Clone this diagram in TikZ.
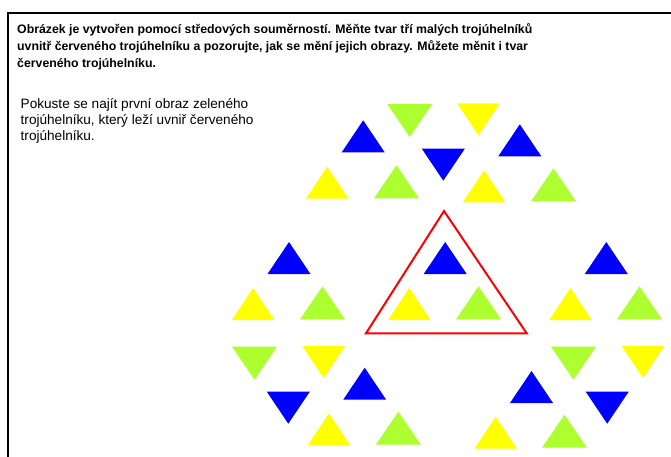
\documentclass[tikz,border=0pt]{standalone}
\usepackage{fontspec}
\setmainfont{Liberation Sans}
\definecolor{triblue}{HTML}{0000FF}
\definecolor{trigreen}{HTML}{ADFF2F}
\definecolor{triyellow}{HTML}{FFFF00}
\definecolor{trired}{HTML}{FF0000}
% triangle macros: #1 = x of base centre, #2 = y of base line (pixels, y downwards)
\newcommand\GrUp[2]{\fill[trigreen] ({#1-22.5},#2) -- ({#1+22.5},#2) -- (#1,{#2-33}) -- cycle;}
\newcommand\GrDn[2]{\fill[trigreen] ({#1-22.5},#2) -- ({#1+22.5},#2) -- (#1,{#2+33}) -- cycle;}
\newcommand\YeUp[2]{\fill[triyellow] ({#1-21.3},#2) -- ({#1+21.3},#2) -- (#1,{#2-32}) -- cycle;}
\newcommand\YeDn[2]{\fill[triyellow] ({#1-21.3},#2) -- ({#1+21.3},#2) -- (#1,{#2+32}) -- cycle;}
\newcommand\BlUp[2]{\fill[triblue] ({#1-21.5},#2) -- ({#1+21.5},#2) -- (#1,{#2-32}) -- cycle;}
\newcommand\BlDn[2]{\fill[triblue] ({#1-21.5},#2) -- ({#1+21.5},#2) -- (#1,{#2+32}) -- cycle;}
\begin{document}
\begin{tikzpicture}[x=1pt,y=-1pt,
  titletext/.style={font=\fontsize{12.3}{15}\selectfont\bfseries, inner sep=0pt, anchor=base west},
  hinttext/.style={font=\fontsize{13.6}{16}\selectfont, inner sep=0pt, anchor=base west},
  frameline/.style={line width=2.2pt, black},
  redtri/.style={trired, line width=2pt, line join=miter}]
\useasboundingbox (0,0) rectangle (671,457);
\fill[white] (0,0) rectangle (671,457);
% frame
\coordinate (fb) at (8,460);
\coordinate (fc) at (8,13);
\coordinate (fr) at (675,13);
\draw[frameline] (fb) -- (fc) -- (fr);
% texts
\node[titletext] (t1) at (17,33.8) {Obrázek je vytvořen pomocí středových souměrností. Měňte tvar tří malých trojúhelníků};
\node[titletext] (t2) at (17,50.5) {uvnitř červeného trojúhelníku a pozorujte, jak se mění jejich obrazy. Můžete měnit i tvar};
\node[titletext] (t3) at (17,67.2) {červeného trojúhelníku.};
\node[hinttext] (h1) at (20.5,108.3) {Pokuste se najít první obraz zeleného};
\node[hinttext] (h2) at (20.5,124.6) {trojúhelníku, který leží uvniř červeného};
\node[hinttext] (h3) at (20.5,141) {trojúhelníku.};
% green
\GrUp{478.5}{319.3}
\GrDn{409.7}{104}
\GrUp{396.5}{198.3}
\GrUp{553.5}{201.3}
\GrUp{322.5}{319.3}
\GrUp{639.5}{319.3}
\GrDn{254.5}{346.7}
\GrUp{398.3}{444.7}
\GrDn{573.5}{346.7}
\GrUp{564.5}{447.7}
% yellow
\YeUp{409.3}{320}
\YeDn{478.5}{103.3}
\YeUp{327.2}{198.7}
\YeUp{484.2}{202.3}
\YeUp{253.2}{320}
\YeUp{570.5}{320}
\YeDn{323.7}{346}
\YeUp{329}{445.3}
\YeDn{643}{346}
\YeUp{495.7}{448.7}
% blue
\BlUp{445.2}{274}
\BlUp{363.2}{152.3}
\BlUp{519.8}{156.3}
\BlDn{443.3}{148.7}
\BlUp{289}{274}
\BlUp{606.3}{274}
\BlUp{364.7}{399.7}
\BlDn{288.3}{391.7}
\BlUp{531.5}{403}
\BlDn{607.2}{391.7}
% red triangle
\coordinate (rA) at (444,211);
\coordinate (rB) at (366,333.3);
\coordinate (rC) at (526.7,333.3);
\draw[redtri] (rA) -- (rB) -- (rC) -- cycle;
\end{tikzpicture}
\end{document}
